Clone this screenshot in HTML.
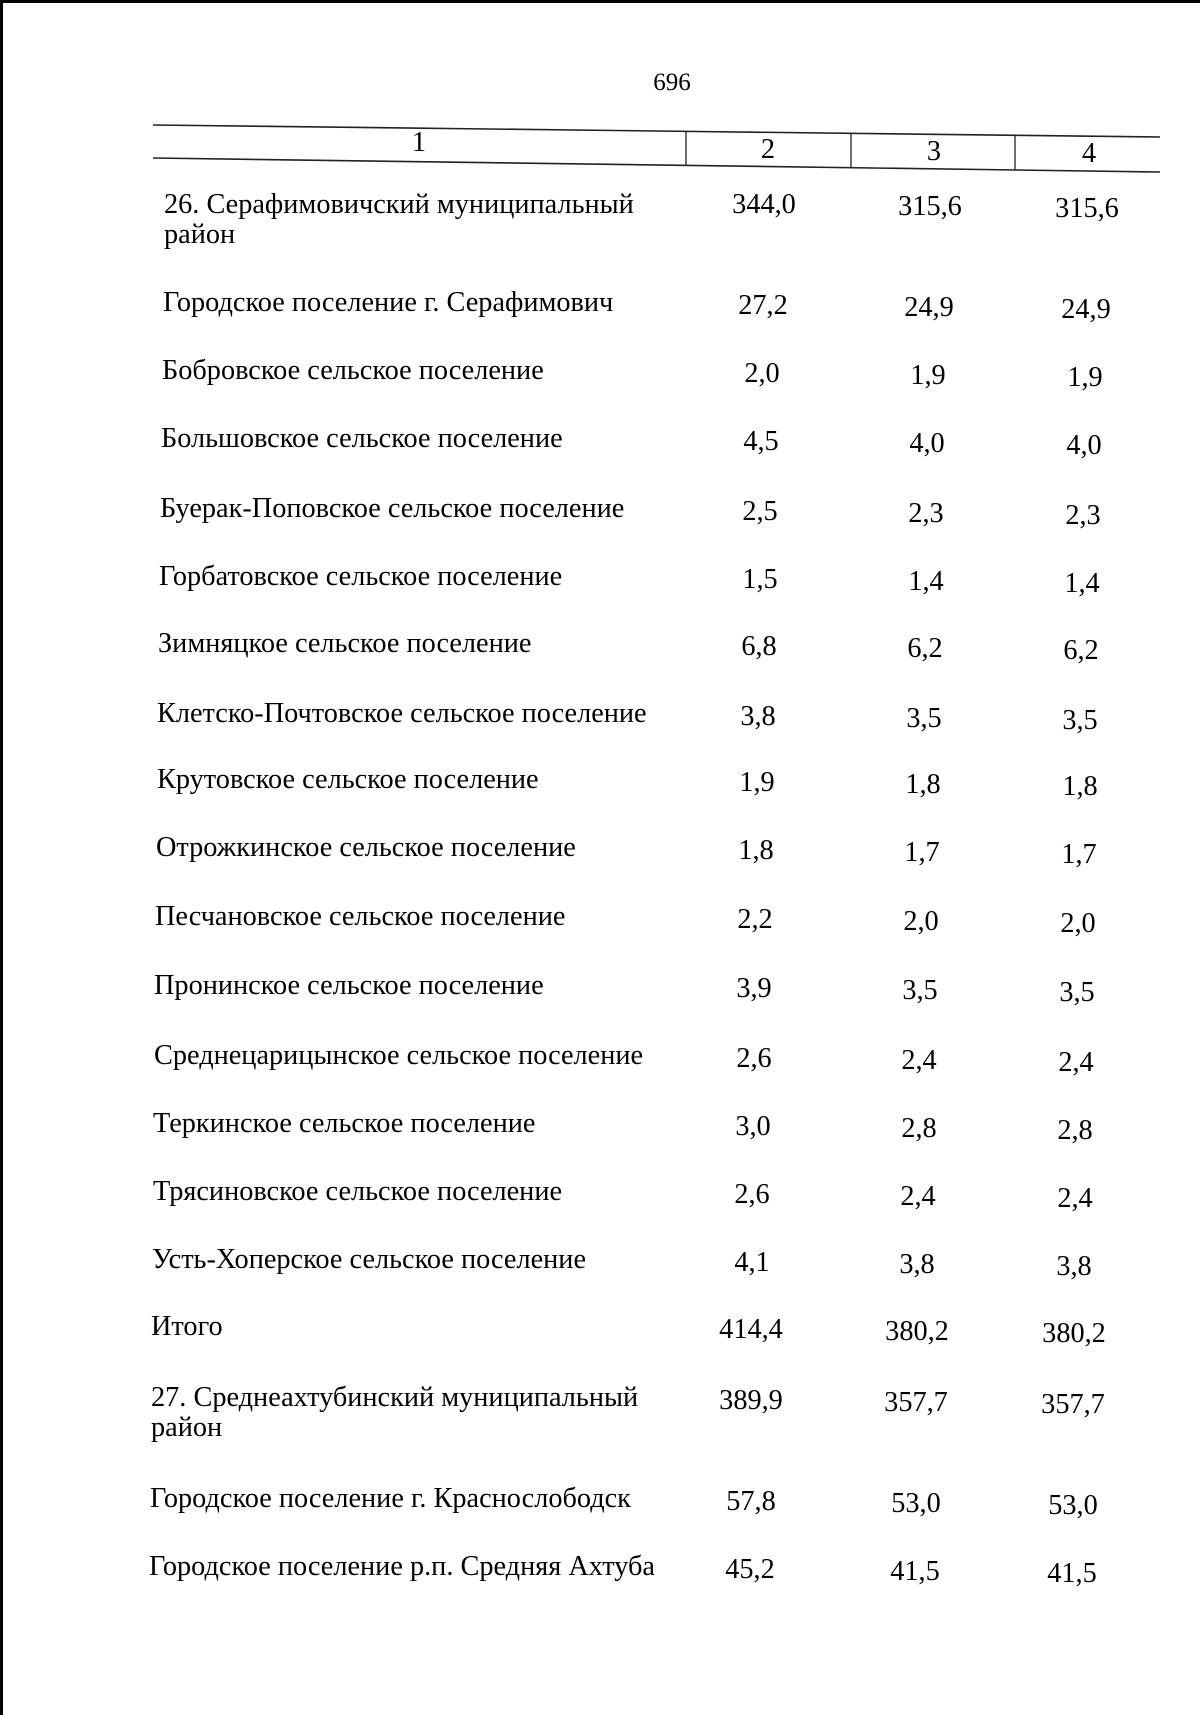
<!DOCTYPE html>
<html><head><meta charset="utf-8"><style>
html,body{margin:0;padding:0;background:#fff}
body{width:1200px;height:1715px;position:relative;overflow:hidden;font-family:"Liberation Serif","Noto Serif CJK SC",serif;color:#000;font-size:28.3px}
.t{position:absolute;white-space:nowrap;line-height:30px}
.n{position:absolute;white-space:nowrap;line-height:30px;transform:translateX(-50%)}
</style></head><body>
<svg width="1200" height="1715" style="position:absolute;left:0;top:0">
<line x1="0" y1="1.5" x2="1200" y2="1.5" stroke="#000" stroke-width="3"/>
<line x1="1.5" y1="0" x2="1.5" y2="1715" stroke="#000" stroke-width="3"/>
<line x1="153" y1="125" x2="1160" y2="137" stroke="#222" stroke-width="1.6"/>
<line x1="153" y1="158" x2="1160" y2="172" stroke="#222" stroke-width="1.6"/>
<line x1="686" y1="132" x2="686" y2="166" stroke="#222" stroke-width="1.3"/>
<line x1="851" y1="134" x2="851" y2="168" stroke="#222" stroke-width="1.3"/>
<line x1="1015" y1="136" x2="1015" y2="170" stroke="#222" stroke-width="1.3"/>
</svg>
<div class="n" style="left:672px;top:68px;font-size:25px">696</div>
<div class="n" style="left:419px;top:128px">1</div>
<div class="n" style="left:768px;top:135px">2</div>
<div class="n" style="left:934px;top:137px">3</div>
<div class="n" style="left:1089px;top:139px">4</div>

<div class="t" style="left:164px;top:190px">26. Серафимовичский муниципальный<br>район</div>
<div class="n" style="left:764px;top:190px">344,0</div><div class="n" style="left:930px;top:192px">315,6</div><div class="n" style="left:1087px;top:194px">315,6</div>

<div class="t" style="left:163px;top:288px">Городское поселение г. Серафимович</div>
<div class="n" style="left:763px;top:291px">27,2</div><div class="n" style="left:929px;top:293px">24,9</div><div class="n" style="left:1086px;top:295px">24,9</div>

<div class="t" style="left:162px;top:356px">Бобровское сельское поселение</div>
<div class="n" style="left:762px;top:359px">2,0</div><div class="n" style="left:928px;top:361px">1,9</div><div class="n" style="left:1085px;top:363px">1,9</div>

<div class="t" style="left:161px;top:424px">Большовское сельское поселение</div>
<div class="n" style="left:761px;top:427px">4,5</div><div class="n" style="left:927px;top:429px">4,0</div><div class="n" style="left:1084px;top:431px">4,0</div>

<div class="t" style="left:160px;top:494px">Буерак-Поповское сельское поселение</div>
<div class="n" style="left:760px;top:497px">2,5</div><div class="n" style="left:926px;top:499px">2,3</div><div class="n" style="left:1083px;top:501px">2,3</div>

<div class="t" style="left:159px;top:562px">Горбатовское сельское поселение</div>
<div class="n" style="left:760px;top:565px">1,5</div><div class="n" style="left:926px;top:567px">1,4</div><div class="n" style="left:1082px;top:569px">1,4</div>

<div class="t" style="left:158px;top:629px">Зимняцкое сельское поселение</div>
<div class="n" style="left:759px;top:632px">6,8</div><div class="n" style="left:925px;top:634px">6,2</div><div class="n" style="left:1081px;top:636px">6,2</div>

<div class="t" style="left:157px;top:699px">Клетско-Почтовское сельское поселение</div>
<div class="n" style="left:758px;top:702px">3,8</div><div class="n" style="left:924px;top:704px">3,5</div><div class="n" style="left:1080px;top:706px">3,5</div>

<div class="t" style="left:157px;top:765px">Крутовское сельское поселение</div>
<div class="n" style="left:757px;top:768px">1,9</div><div class="n" style="left:923px;top:770px">1,8</div><div class="n" style="left:1080px;top:772px">1,8</div>

<div class="t" style="left:156px;top:833px">Отрожкинское сельское поселение</div>
<div class="n" style="left:756px;top:836px">1,8</div><div class="n" style="left:922px;top:838px">1,7</div><div class="n" style="left:1079px;top:840px">1,7</div>

<div class="t" style="left:155px;top:902px">Песчановское сельское поселение</div>
<div class="n" style="left:755px;top:905px">2,2</div><div class="n" style="left:921px;top:907px">2,0</div><div class="n" style="left:1078px;top:909px">2,0</div>

<div class="t" style="left:154px;top:971px">Пронинское сельское поселение</div>
<div class="n" style="left:754px;top:974px">3,9</div><div class="n" style="left:920px;top:976px">3,5</div><div class="n" style="left:1077px;top:978px">3,5</div>

<div class="t" style="left:154px;top:1041px">Среднецарицынское сельское поселение</div>
<div class="n" style="left:754px;top:1044px">2,6</div><div class="n" style="left:919px;top:1046px">2,4</div><div class="n" style="left:1076px;top:1048px">2,4</div>

<div class="t" style="left:153px;top:1109px">Теркинское сельское поселение</div>
<div class="n" style="left:753px;top:1112px">3,0</div><div class="n" style="left:919px;top:1114px">2,8</div><div class="n" style="left:1075px;top:1116px">2,8</div>

<div class="t" style="left:153px;top:1177px">Трясиновское сельское поселение</div>
<div class="n" style="left:752px;top:1180px">2,6</div><div class="n" style="left:918px;top:1182px">2,4</div><div class="n" style="left:1075px;top:1184px">2,4</div>

<div class="t" style="left:152px;top:1245px">Усть-Хоперское сельское поселение</div>
<div class="n" style="left:752px;top:1248px">4,1</div><div class="n" style="left:917px;top:1250px">3,8</div><div class="n" style="left:1074px;top:1252px">3,8</div>

<div class="t" style="left:151px;top:1312px">Итого</div>
<div class="n" style="left:751px;top:1315px">414,4</div><div class="n" style="left:917px;top:1317px">380,2</div><div class="n" style="left:1074px;top:1319px">380,2</div>

<div class="t" style="left:151px;top:1383px">27. Среднеахтубинский муниципальный<br>район</div>
<div class="n" style="left:751px;top:1386px">389,9</div><div class="n" style="left:916px;top:1388px">357,7</div><div class="n" style="left:1073px;top:1390px">357,7</div>

<div class="t" style="left:150px;top:1484px">Городское поселение г. Краснослободск</div>
<div class="n" style="left:751px;top:1487px">57,8</div><div class="n" style="left:916px;top:1489px">53,0</div><div class="n" style="left:1073px;top:1491px">53,0</div>

<div class="t" style="left:149px;top:1552px">Городское поселение р.п. Средняя Ахтуба</div>
<div class="n" style="left:750px;top:1555px">45,2</div><div class="n" style="left:915px;top:1557px">41,5</div><div class="n" style="left:1072px;top:1559px">41,5</div>
</body></html>
